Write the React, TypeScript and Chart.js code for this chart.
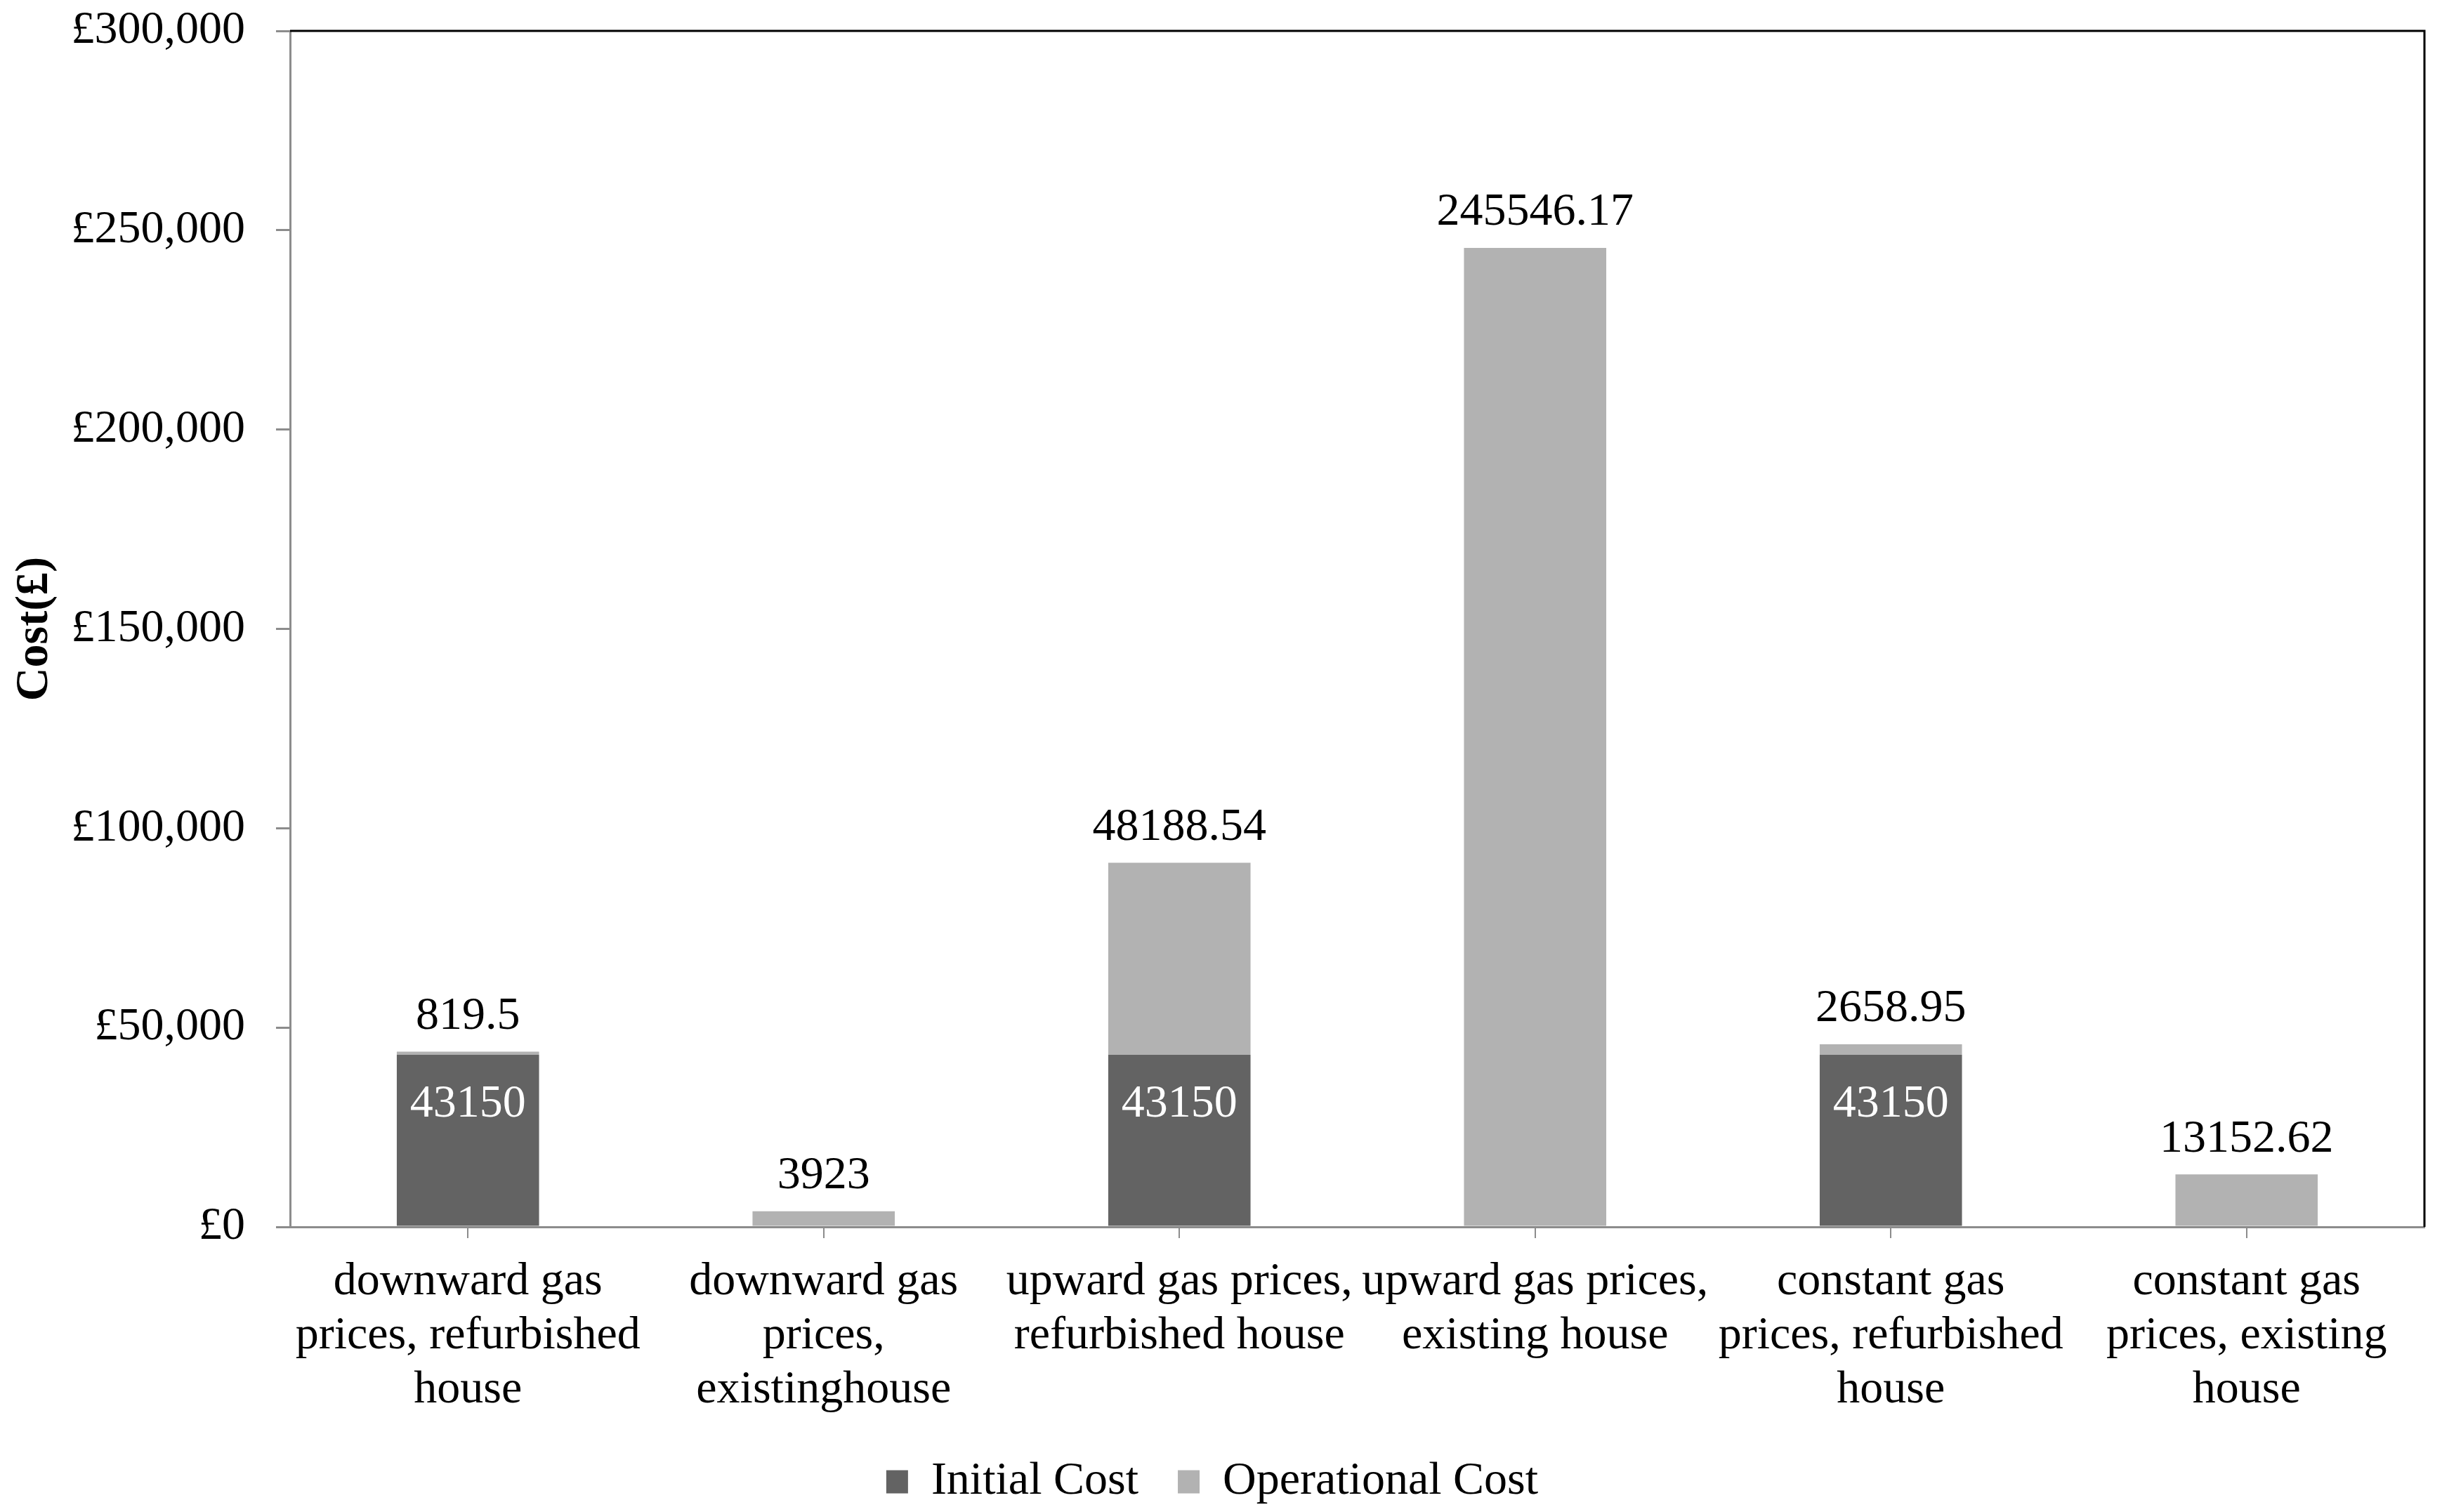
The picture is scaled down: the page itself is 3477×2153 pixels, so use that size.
import { useEffect, useRef } from "react";
import { Chart, registerables } from "chart.js";

Chart.register(...registerables);

const categories: string[][] = [
  ["downward gas", "prices, refurbished", "house"],
  ["downward gas", "prices,", "existinghouse"],
  ["upward gas prices,", "refurbished house"],
  ["upward gas prices,", "existing house"],
  ["constant gas", "prices, refurbished", "house"],
  ["constant gas", "prices, existing", "house"],
];
const initialCost = [43150, 0, 43150, 0, 43150, 0];
const operationalCost = [819.5, 3923, 48188.54, 245546.17, 2658.95, 13152.62];
const seriesNames = ["Initial Cost", "Operational Cost"];
const yTitle = "Cost(£)";
const yMax = 300000;
const yStep = 50000;

const FONT = '"Liberation Serif", "Times New Roman", serif';
const FS = 66;

const valueLabels = {
  id: "valueLabels",
  afterDatasetsDraw(chart: any) {
    const ctx = chart.ctx;
    ctx.save();
    ctx.font = `${FS}px ${FONT}`;
    ctx.textAlign = "center";
    ctx.textBaseline = "middle";
    chart.data.datasets.forEach((ds: any, di: number) => {
      const meta = chart.getDatasetMeta(di);
      meta.data.forEach((el: any, i: number) => {
        const v = ds.data[i];
        if (!v) return;
        if (di === 0) {
          ctx.fillStyle = "#ffffff";
          ctx.fillText(String(v), el.x, el.y + 71);
        } else {
          ctx.fillStyle = "#000000";
          ctx.fillText(String(v), el.x, el.y - 50);
        }
      });
    });
    ctx.restore();
  },
};

const frame = {
  id: "frame",
  afterDraw(chart: any) {
    const { ctx, chartArea } = chart;
    ctx.save();
    ctx.strokeStyle = "#000000";
    ctx.lineWidth = 3;
    ctx.beginPath();
    ctx.moveTo(chartArea.left, chartArea.top);
    ctx.lineTo(chartArea.right, chartArea.top);
    ctx.lineTo(chartArea.right, chartArea.bottom);
    ctx.stroke();
    ctx.restore();
  },
};

export default function App() {
  const ref = useRef<HTMLCanvasElement | null>(null);
  useEffect(() => {
    document.body.style.margin = "0";
    const canvas = ref.current!;
    const chart = new Chart(canvas, {
      type: "bar",
      data: {
        labels: categories as any,
        datasets: [
          {
            label: seriesNames[0],
            data: initialCost,
            backgroundColor: "#636363",
            barPercentage: 0.4,
            categoryPercentage: 1,
          },
          {
            label: seriesNames[1],
            data: operationalCost,
            backgroundColor: "#b2b2b2",
            barPercentage: 0.4,
            categoryPercentage: 1,
          },
        ],
      },
      options: {
        responsive: false,
        animation: false,
        devicePixelRatio: 1,
        layout: { padding: { left: 0, right: 25, top: 44, bottom: 0 } },
        plugins: {
          legend: {
            position: "bottom",
            labels: {
              font: { family: FONT, size: FS },
              color: "#000",
              boxWidth: 31,
              boxHeight: 33,
              padding: 56,
            },
          },
          tooltip: { enabled: false },
        },
        scales: {
          x: {
            stacked: true,
            border: { color: "#8c8c8c", width: 3 },
            grid: {
              offset: false,
              drawOnChartArea: false,
              drawTicks: true,
              tickLength: 16,
              color: "#8c8c8c",
              lineWidth: 2,
            },
            ticks: {
              font: { family: FONT, size: FS, lineHeight: 1.17 },
              color: "#000",
              padding: 24,
              maxRotation: 0,
              autoSkip: false,
            },
            afterFit(scale: any) {
              scale.height = 274;
            },
          },
          y: {
            stacked: true,
            min: 0,
            max: yMax,
            border: { color: "#8c8c8c", width: 3 },
            grid: {
              drawOnChartArea: false,
              drawTicks: true,
              tickLength: 20,
              color: "#8c8c8c",
              lineWidth: 3,
            },
            ticks: {
              stepSize: yStep,
              font: { family: FONT, size: FS },
              color: "#000",
              padding: 44,
              callback: (v: any) => "£" + Number(v).toLocaleString("en-GB"),
            },
            title: {
              display: true,
              text: yTitle,
              font: { family: FONT, size: FS, weight: "bold" },
              color: "#000",
              padding: { top: 10, bottom: 0 },
            },
            afterFit(scale: any) {
              scale.width = 413;
              scale.paddingTop = 0;
              scale.paddingBottom = 0;
            },
          },
        },
      },
      plugins: [valueLabels, frame],
    });
    return () => chart.destroy();
  }, []);
  return (
    <div style={{ width: "3477px", height: "2153px" }}>
      <canvas ref={ref} width={3477} height={2153} style={{ display: "block" }} />
    </div>
  );
}
